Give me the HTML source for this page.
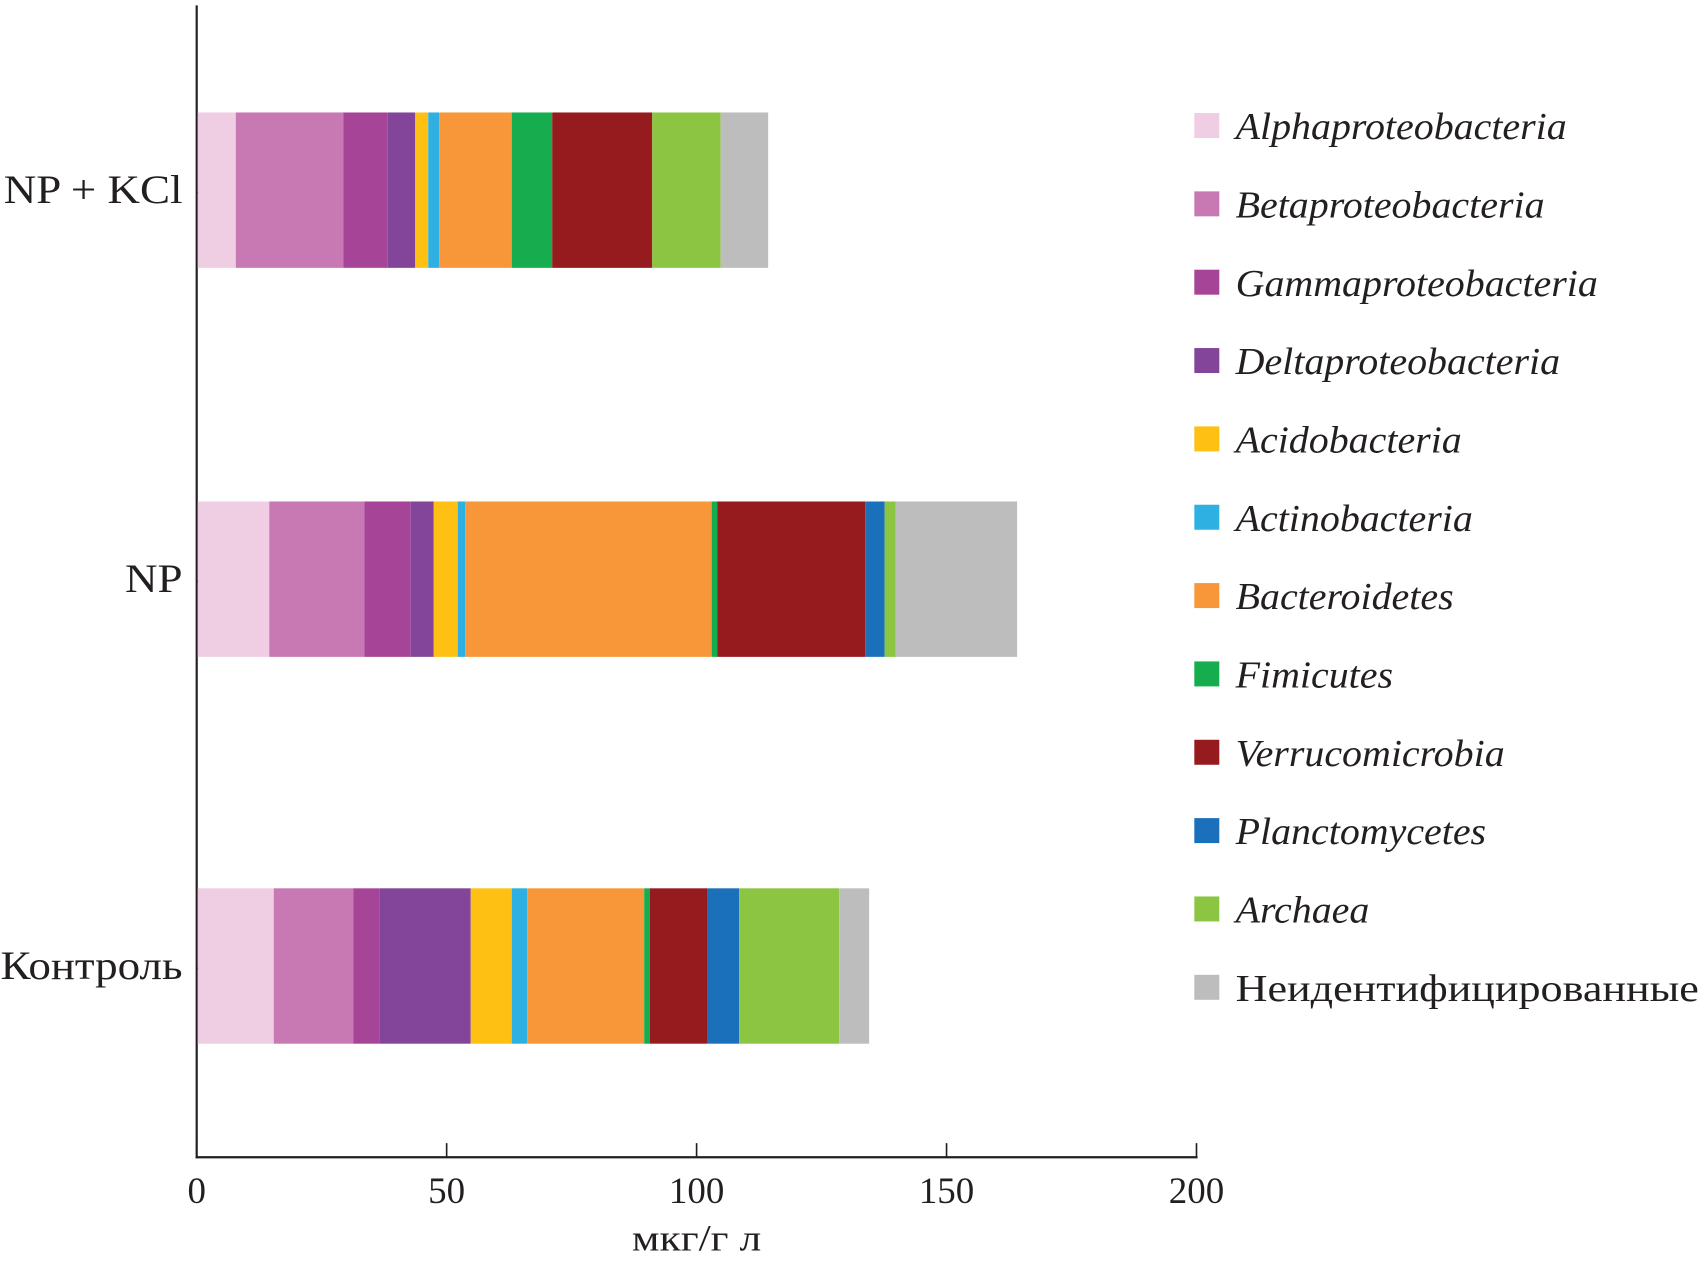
<!DOCTYPE html>
<html><head><meta charset="utf-8"><style>
html,body{margin:0;padding:0;background:#fff;}
svg{display:block;}
text{font-family:"Liberation Serif",serif;fill:#231f20;}
</style></head><body>
<svg id="chart" width="1704" height="1267" viewBox="0 0 1568 1166" preserveAspectRatio="none" xmlns="http://www.w3.org/2000/svg">
<g id="axes"></g><g id="bars"></g><g id="legend"></g>
</svg>
<script>
const categories = ["NP + KCl", "NP", "Контроль"];
const seriesNames = ["Alphaproteobacteria","Betaproteobacteria","Gammaproteobacteria","Deltaproteobacteria","Acidobacteria","Actinobacteria","Bacteroidetes","Fimicutes","Verrucomicrobia","Planctomycetes","Archaea","Неидентифицированные"];
const seriesColors = ["#efcde2","#c878b2","#a64597","#834599","#fec013","#2eb0e3","#f79739","#16ad4e","#961b1f","#1b70bb","#8bc541","#bdbdbd"];
const valuesNPKCl = [7.6,21.5,8.9,5.5,2.6,2.2,14.5,8.1,20.0,0,13.7,9.5];
const valuesNP = [14.3,19.0,9.3,4.6,4.8,1.5,49.3,1.1,29.6,3.9,2.2,24.3];
const valuesControl = [15.2,15.9,5.2,18.3,8.2,3.1,23.4,1.1,11.6,6.3,20.0,6.0];
const xTicks = [0,50,100,150,200];
const xTitle = "мкг/г л";

const NS="http://www.w3.org/2000/svg";
const allValues=[valuesNPKCl,valuesNP,valuesControl];
const catY=[175,533,889];
const x=v=>182+v*4.6;
const barH=143;
function mk(tag,attrs,parent){const e=document.createElementNS(NS,tag);for(const k in attrs)e.setAttribute(k,attrs[k]);parent.appendChild(e);return e;}
function widen(t,f){const len=t.getComputedTextLength();if(len>0){t.setAttribute('textLength',len*f);t.setAttribute('lengthAdjust','spacingAndGlyphs');}}
const axes=document.getElementById('axes'),bars=document.getElementById('bars'),legend=document.getElementById('legend');

allValues.forEach((vals,ci)=>{
  let acc=0;
  vals.forEach((v,si)=>{
    if(v>0){
      const r=mk('rect',{x:x(acc),y:catY[ci]-barH/2,width:x(acc+v)-x(acc),height:barH,fill:seriesColors[si]},bars);
      
      
    }
    acc+=v;
  });
});

let l=mk('line',{x1:181,y1:5,x2:181,y2:1066,stroke:'#231f20','stroke-width':2},axes);


l=mk('line',{x1:180,y1:1065,x2:1102,y2:1065,stroke:'#231f20','stroke-width':2},axes);


xTicks.forEach(t=>{
  const tk=mk('line',{x1:x(t)-1,y1:1052,x2:x(t)-1,y2:1065,stroke:'#231f20','stroke-width':1.5},axes);
  
  
  const tx=mk('text',{x:x(t)-1,y:1107,'text-anchor':'middle','font-size':34},axes);
  tx.textContent=t;
  
  
});
const xt=mk('text',{x:641,y:1151,'text-anchor':'middle','font-size':34},axes);
xt.textContent=xTitle;


widen(xt,1.18);
categories.forEach((c,ci)=>{
  const tk=mk('line',{x1:181,y1:catY[ci]+2,x2:195,y2:catY[ci]+2,stroke:'#231f20','stroke-width':1.5},axes);
  
  
  const tx=mk('text',{x:168,y:catY[ci]+12,'text-anchor':'end','font-size':37},axes);
  tx.textContent=c;
  
  
  widen(tx,1.12);
});

seriesNames.forEach((n,si)=>{
  const cy=116+si*72.1;
  const r=mk('rect',{x:1099,y:cy-12,width:23,height:23,fill:seriesColors[si]},legend);
  
  
  const t=mk('text',{x:1137,y:cy+12,'font-size':35,'font-style':si<11?'italic':'normal'},legend);
  t.textContent=n;
  
  
  widen(t,si<11?1.05:1.16);
});
</script>
</body></html>
